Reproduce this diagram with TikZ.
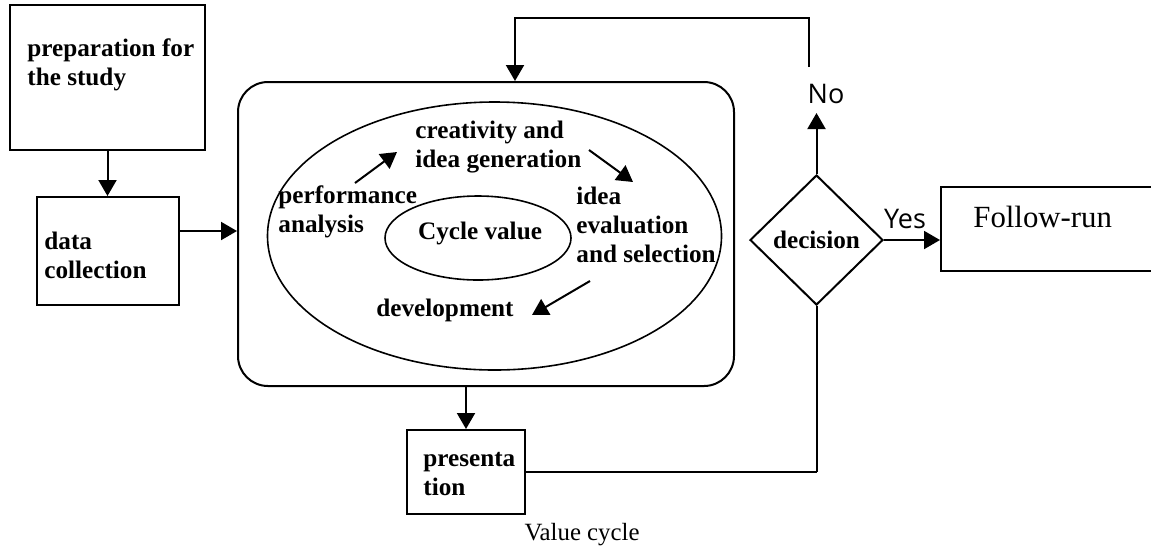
\documentclass[tikz,border=0pt]{standalone}
\usepackage{fontspec}
\setmainfont{Liberation Serif}
\newfontfamily\uisans{Open Sans}
\usetikzlibrary{arrows.meta,positioning,shapes.geometric}

\begin{document}
\begin{tikzpicture}[
  x=0.5pt, y=-0.5pt,
  box/.style={rectangle, draw, line width=1pt},
  lbl/.style={inner sep=0pt, align=left, anchor=base west,
    font=\fontsize{12.6}{14.5}\selectfont\bfseries},
  yn/.style={inner sep=0pt, font=\uisans\fontsize{13.5}{16}\selectfont},
  ring/.style={ellipse, draw, line width=0.8pt, inner sep=0pt},
  arr/.style={-{Triangle[length=8pt,width=9pt]}, line width=1pt},
  wire/.style={line width=1pt}
]
\useasboundingbox (0,0) rectangle (1151,548);

% left column (labels sit on their last baseline)
\node[box, minimum width=97.5pt, minimum height=72.5pt] (prep) at (107.5,77.5) {};
\node[box, minimum width=71pt, minimum height=54pt, below=22.5pt of prep] (data) {};
\node[lbl] (preptxt) at (27,85) {preparation for\\the study};
\node[lbl] (datatxt) at (44,278) {data\\collection};

% value cycle block
\node[box, rounded corners=15pt, minimum width=248pt, minimum height=152pt] (main) at (486,234) {};
\node[ring, minimum width=227pt, minimum height=134pt] (outer) at (494.5,236) {};
\node[ring, minimum width=93pt, minimum height=42pt] (inner) at (478,238) {};
\node[lbl, anchor=base] (cycle) at (480,239) {Cycle value};
\node[lbl] (perf) at (278,232) {performance\\analysis};
\node[lbl] (creat) at (415,167) {creativity and\\idea generation};
\node[lbl] (idea) at (576,262) {idea\\evaluation\\and selection};
\node[lbl] (devel) at (376,316) {development};
\coordinate (a1) at (355,183);
\coordinate (a2) at (397,152);
\coordinate (b1) at (589,150);
\coordinate (b2) at (633,182);
\coordinate (c1) at (590,281);
\coordinate (c2) at (532,315);

% presentation
\node[box, minimum width=59pt, minimum height=42pt, below=21pt of main, xshift=-10pt] (pres) {};
\node[lbl] (prestxt) at (423,495) {presenta\\tion};

% decision and result
\node[diamond, draw, line width=1pt, inner sep=0pt, minimum width=66.5pt,
  minimum height=65pt, font=\fontsize{12.6}{14.5}\selectfont\bfseries] (decision) at (816.5,240) {decision};
\node[box, minimum width=106pt, minimum height=42pt, right=28pt of decision, yshift=5.5pt] (follow) {};
\node[anchor=base west, inner sep=0pt, font=\fontsize{15.4}{18}\selectfont] (followtxt) at (973,227) {Follow-run};
\node[yn] (no) at (826,94) {No};
\node[yn] (yes) at (905,219) {Yes};
\coordinate (noTip) at (816.5,113);
\coordinate (noTop) at (809,67);
\coordinate (loopR) at (809,18);
\coordinate (loopL) at (515,18);
\coordinate (joint) at (816.5,472);

\node[inner sep=0pt, anchor=base, font=\fontsize{12.4}{14.5}\selectfont] (caption) at (582,540) {Value cycle};

\draw[arr] (prep) -- (data);
\draw[arr] ([yshift=10pt]data.east) -- ([yshift=10pt]data.east -| main.west);
\draw[arr] (a1) -- (a2);
\draw[arr] (b1) -- (b2);
\draw[arr] (c1) -- (c2);
\draw[arr] (pres.north |- main.south) -- (pres);
\draw[arr] (decision.north) -- (noTip);
\draw[arr] (noTop) -- (loopR) -- (loopL) -- (loopL |- main.north);
\draw[arr] (decision.east) -- (decision.east -| follow.west);
\draw[wire] (decision.south) -- (joint);
\draw[wire] (pres.east) -- (pres.east -| joint);
\end{tikzpicture}
\end{document}
